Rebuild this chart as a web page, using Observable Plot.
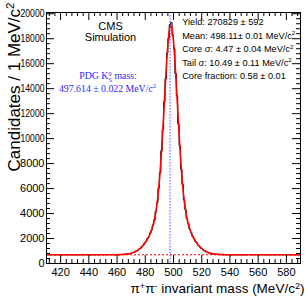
<!DOCTYPE html>
<html><head><meta charset="utf-8">
<script src="https://cdn.jsdelivr.net/npm/d3@7"></script>
<script src="https://cdn.jsdelivr.net/npm/@observablehq/plot@0.6"></script>
<style>body{margin:0;background:#fff}#chart{width:308px;height:296px}</style>
</head><body><div id="chart"></div>
<script>
// ---- data ----
const binStart = 410, binWidth = 1;
const counts = [
 712,694,705,689,718,701,683,709,697,722,
 690,704,715,686,699,711,693,706,680,714,
 702,688,719,695,707,684,710,698,721,691,
 703,687,713,700,692,716,689,705,724,696,
 709,717,698,726,711,719,708,
 715,698,720,712,705,728,716,739,731,758,
 752,794,812,829,891,914,998,1031,1147,1205,
 1351,1437,1628,1749,1978,2141,2446,2679,3101,3488,
 4185,4872,6051,7254,9032,10741,12980,14788,16850,18004,
 19120,19290,18230,17190,15205,13430,11172,9418,7572,6319,
 5085,4342,3601,3197,2741,2502,2183,2021,1779,1656,
 1462,1377,1223,1161,1042,1008,917,898,829,824,
 771,779,738,746,716,731,704,722,699,713,692,709,
 694,711,687,703,716,698,690,708,701,685,
 713,697,706,692,719,700,688,709,695,714,
 702,684,707,698,717,691,704,710,686,699,
 712,694,705,689,716,701,693,708,697,720,
 688,703,711,692,706,699,714,687,702,709,
 696
];
// fit curve sampled at bin centres 456.5 ... 539.5 (flat background elsewhere)
const fitStart = 456.5;
const fitValues = [
 702,703,704,705,707,710,714,719,726,734,746,
 761,780,805,836,873,920,976,1044,1124,1218,
 1328,1454,1599,1763,1949,2162,2407,2701,3062,3526,
 4132,4933,5982,7317,8945,10828,12866,14895,16716,18113,
 18908,18989,18345,17067,15322,13318,11268,9341,7651,6250,
 5141,4290,3644,3154,2774,2467,2212,1994,1802,1633,
 1484,1354,1241,1143,1060,990,931,883,843,811,
 785,765,749,737,727,720,715,711,708,706,704,703,702
];
const bgLevel = 700;
const pdgMass = 497.614;
const xMajor = [420,440,460,480,500,520,540,560,580];
const yMajor = [0,2000,4000,6000,8000,10000,12000,14000,16000,18000,20000];
const xDomain = [410,590], yDomain = [0,20100];

const labels = {
  ytitle: [["Candidates / 1 MeV/c"],["2","sup"]],
  xtitle: [["π"],["+","sup"],["π"],["-","sup"],[" invariant mass (MeV/c"],["2","sup"],[")"]],
  cms: [["CMS"]],
  sim: [["Simulation"]],
  pdg1: [["PDG K"],["0","sup"],["S","substack"],[" mass:"]],
  pdg2: [["497.614 ± 0.022 MeV/c"],["2","sup"]],
  yield: [["Yield: 270829 ± 592"]],
  mean: [["Mean: 498.11± 0.01 MeV/c"],["2","sup"]],
  core: [["Core σ: 4.47 ± 0.04 MeV/c"],["2","sup"]],
  tail: [["Tail σ: 10.49 ± 0.11 MeV/c"],["2","sup"]],
  frac: [["Core fraction: 0.58 ± 0.01"]]
};

// ---- derived tables ----
const nBins = counts.length;
const hist = counts.map((c,i)=>({x: binStart + i*binWidth, y: c}));
hist.push({x: binStart + nBins*binWidth, y: counts[nBins-1]});
const fit = [{x: xDomain[0], y: bgLevel}]
  .concat(fitValues.map((v,i)=>({x: fitStart + i, y: v})))
  .concat([{x: xDomain[1], y: bgLevel}]);
const xMinor = d3.range(412, 590, 4).filter(v => !xMajor.includes(v));
const yMinor = d3.range(400, 20100, 400).filter(v => !yMajor.includes(v));

const W = 308, H = 296, mL = 46, mR = 8, mT = 12, mB = 33;
const pw = W - mL - mR, ph = H - mT - mB;
const sans = "Liberation Sans, Arial, Helvetica, sans-serif";
const serif = "Liberation Serif, Times New Roman, serif";

// baseline-anchored text: Plot's lineAnchor "bottom" sits 0.29em above the anchor
function txt(key, o) {
  const fs = o.fontSize || 11;
  const base = {text: d => "@" + d, frameAnchor: "top-left", lineAnchor: "bottom", fontFamily: sans};
  const opts = Object.assign(base, o);
  if (o.rotate === -90) opts.dx = (o.dx || 0) + 0.29 * fs;
  else opts.dy = (o.dy || 0) + 0.29 * fs;
  return Plot.text([key], opts);
}

const svg = Plot.plot({
  width: W, height: H,
  marginLeft: mL, marginRight: mR, marginTop: mT, marginBottom: mB,
  style: {fontFamily: sans, fontSize: "11px", background: "#fff", overflow: "visible"},
  x: {domain: xDomain},
  y: {domain: yDomain},
  marks: [
    Plot.ruleY([bgLevel], {stroke: "#ff0000", strokeWidth: 1, strokeDasharray: "2,2"}),
    Plot.ruleX([pdgMass], {stroke: "#7070ff", strokeWidth: 1.2, strokeDasharray: "1.5,1.5"}),
    Plot.line(hist, {x: "x", y: "y", curve: "step-after", stroke: "#000", strokeWidth: 1}),
    Plot.line(fit, {x: "x", y: "y", curve: "catmull-rom", stroke: "#ff0000", strokeWidth: 1.6}),
    // inward ticks on all four sides
    Plot.ruleX(xMajor, {insetTop: ph - 8, stroke: "#000"}),
    Plot.ruleX(xMinor, {insetTop: ph - 4, stroke: "#000"}),
    Plot.ruleX(xMajor, {insetBottom: ph - 8, stroke: "#000"}),
    Plot.ruleX(xMinor, {insetBottom: ph - 4, stroke: "#000"}),
    Plot.ruleY(yMajor, {insetRight: pw - 8, stroke: "#000"}),
    Plot.ruleY(yMinor, {insetRight: pw - 4, stroke: "#000"}),
    Plot.ruleY(yMajor, {insetLeft: pw - 8, stroke: "#000"}),
    Plot.ruleY(yMinor, {insetLeft: pw - 4, stroke: "#000"}),
    Plot.frame({stroke: "#000"}),
    Plot.axisX(xMajor, {tickSize: 0, tickPadding: 4.5, label: null, tickFormat: d => String(d), fontSize: 11, fill: "#000"}),
    Plot.axisY(yMajor, {tickSize: 0, tickPadding: 2, label: null, tickFormat: d => String(d), fontSize: 11, fill: "#000"}),
    txt("ytitle", {dx: -31.5, dy: -10, rotate: -90, textAnchor: "end", fontSize: 17}),
    txt("xtitle", {frameAnchor: "bottom-right", dx: 4, dy: 26, textAnchor: "end", fontSize: 13.5}),
    txt("cms", {dx: 64, dy: 14, textAnchor: "middle", fontSize: 11}),
    txt("sim", {dx: 64, dy: 25.5, textAnchor: "middle", fontSize: 11}),
    txt("pdg1", {dx: 61.5, dy: 64, textAnchor: "middle", fontSize: 9.8, fontFamily: serif, fill: "#2a2aff"}),
    txt("pdg2", {dx: 61, dy: 76.3, textAnchor: "middle", fontSize: 9.8, fontFamily: serif, fill: "#2a2aff"}),
    txt("yield", {dx: 135.7, dy: 10, fontSize: 9.2}),
    txt("mean", {dx: 135.7, dy: 23.5, fontSize: 9.2}),
    txt("core", {dx: 135.7, dy: 37, fontSize: 9.2}),
    txt("tail", {dx: 135.7, dy: 50.5, fontSize: 9.2}),
    txt("frac", {dx: 135.7, dy: 64, fontSize: 9.2})
  ]
});

// rich text: superscripts / subscripts as tspans
d3.select(svg).selectAll("text").each(function() {
  const s = this.textContent;
  if (!s.startsWith("@")) return;
  const parts = labels[s.slice(1)];
  if (!parts) return;
  const fs = parseFloat(this.getAttribute("font-size")) || parseFloat(this.parentNode.getAttribute("font-size")) || 11;
  const t = d3.select(this);
  t.selectAll("*").remove();
  t.text(null);
  let cur = 0, lastW = 0;
  for (const [str, kind] of parts) {
    const sp = t.append("tspan").text(str);
    let target = 0;
    if (kind === "sup") { target = -0.36 * fs; sp.attr("font-size", 0.68 * fs); lastW = 0.68 * fs * 0.5 * str.length; }
    else if (kind === "substack") { target = 0.28 * fs; sp.attr("font-size", 0.68 * fs).attr("dx", -lastW); }
    sp.attr("dy", target - cur);
    cur = target;
  }
});

// the reference squeezes the five-digit y labels into the width of four digits
d3.select(svg).selectAll('g[aria-label="y-axis tick label"] text').each(function() {
  const s = this.textContent;
  if (s.length >= 5) { this.setAttribute("textLength", 24); this.setAttribute("lengthAdjust", "spacingAndGlyphs"); }
});

document.getElementById("chart").appendChild(svg);
</script></body></html>
